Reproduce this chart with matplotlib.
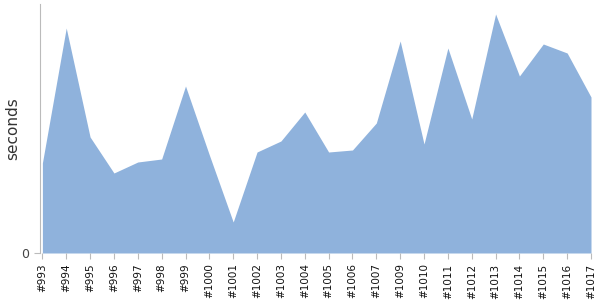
import matplotlib
matplotlib.use("Agg")
import matplotlib.pyplot as plt

builds = ["#993", "#994", "#995", "#996", "#997", "#998", "#999", "#1000", "#1001",
          "#1002", "#1003", "#1004", "#1005", "#1006", "#1007", "#1009", "#1010",
          "#1011", "#1012", "#1013", "#1014", "#1015", "#1016", "#1017"]
seconds = [90, 225, 116, 80, 91, 94, 167, 98, 31, 101, 112, 141, 101, 103, 130,
           212, 109, 205, 134, 239, 177, 209, 200, 156]

fig = plt.figure(figsize=(6, 3), dpi=100)
ax = fig.add_axes([40/600, 47/300, 551/600, 249/300])
x = list(range(len(builds)))
ax.fill_between(x, seconds, 0, color="#8FB2DC", linewidth=0)
ax.set_xlim(-0.1, len(builds) - 1)
ax.set_ylim(0, 249)
ax.set_xticks(x)
ax.set_xticklabels(builds, rotation=90, fontsize=7.5, color="#111111")
ax.set_yticks([0])
ax.set_yticklabels(["0"], fontsize=9, color="#444444")
ax.set_ylabel("seconds", fontsize=11, color="#333333", va="center")
ax.yaxis.set_label_coords(-27/551, 0.5)
for s in ["top", "right"]:
    ax.spines[s].set_visible(False)
ax.spines["bottom"].set_visible(False)
ax.spines["left"].set_color("#bbbbbb")
ax.tick_params(axis="both", color="#bbbbbb", length=4)
fig.savefig("out.png", dpi=100)
